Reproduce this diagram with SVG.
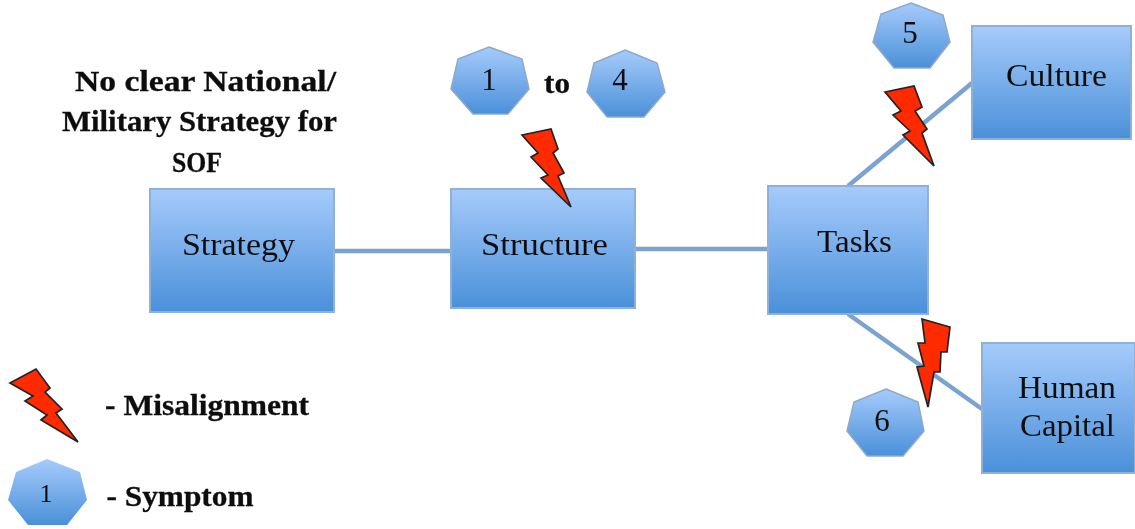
<svg xmlns="http://www.w3.org/2000/svg" width="1135" height="529" viewBox="0 0 1135 529">
<style>
text{font-family:"Liberation Serif","DejaVu Serif",serif;fill:#111;text-anchor:middle}
.n{font-size:31px}
.b{font-size:29px;font-weight:bold;stroke:#111;stroke-width:.3px}
.box{fill:url(#g);stroke:#8fb1d8;stroke-width:2}
.hep{fill:url(#g);stroke:#8fa9c8;stroke-width:1.5}
.bolt{fill:#ff2a00;stroke:#222;stroke-width:1.7;stroke-linejoin:miter}
.c{stroke:#7ba3cf;stroke-width:4.5;fill:none}
</style>
<defs>
<linearGradient id="g" x1="0" y1="0" x2="0" y2="1">
<stop offset="0" stop-color="#a6cbfb"/><stop offset="1" stop-color="#4a90d9"/>
</linearGradient>
<filter id="soft" x="-5%" y="-5%" width="110%" height="110%"><feGaussianBlur stdDeviation="0.45"/></filter>
</defs>
<g filter="url(#soft)">
<g id="connectors">
<line class="c" x1="334" y1="251" x2="451" y2="251"/>
<line class="c" x1="635" y1="249" x2="768" y2="249"/>
<line class="c" x1="848" y1="186" x2="972" y2="83"/>
<line class="c" x1="848" y1="314" x2="982" y2="409"/>
</g>
<g id="strategy"><rect class="box" x="150" y="189" width="184" height="123"/><text class="n" x="238.500" y="255" textLength="113" lengthAdjust="spacingAndGlyphs">Strategy</text></g>
<g id="structure"><rect class="box" x="451" y="189" width="184" height="119"/><text class="n" x="544.500" y="255" textLength="127" lengthAdjust="spacingAndGlyphs">Structure</text></g>
<g id="tasks"><rect class="box" x="768" y="186" width="160" height="128"/><text class="n" x="854.500" y="252" textLength="75" lengthAdjust="spacingAndGlyphs">Tasks</text></g>
<g id="culture"><rect class="box" x="972" y="26" width="159" height="113"/><text class="n" x="1056.500" y="86" textLength="101" lengthAdjust="spacingAndGlyphs">Culture</text></g>
<g id="human-capital"><rect class="box" x="982" y="343" width="153" height="130"/><text class="n" x="1067" y="398" textLength="98" lengthAdjust="spacingAndGlyphs">Human</text><text class="n" x="1067.500" y="436" textLength="95" lengthAdjust="spacingAndGlyphs">Capital</text></g>
<g id="strategy-note">
<text class="b" x="205.500" y="91" textLength="261" lengthAdjust="spacingAndGlyphs">No clear National/</text>
<text class="b" x="199.500" y="131" textLength="275" lengthAdjust="spacingAndGlyphs">Military Strategy for</text>
<text class="b" x="197" y="172" textLength="50" lengthAdjust="spacingAndGlyphs">SOF</text>
</g>
<g id="symptom-1"><polygon class="hep" points="489,47 522,59 529,89 508,114 473,114 451,89 458,59"/><text class="n" x="489" y="90">1</text></g>
<text class="b" x="557" y="93" textLength="26" lengthAdjust="spacingAndGlyphs">to</text>
<g id="symptom-4"><polygon class="hep" points="625,50 657,63 665,92 644,117 607,117 587,92 594,63"/><text class="n" x="620" y="90">4</text></g>
<g id="symptom-5"><polygon class="hep" points="911,3 943,15 950,42 930,68 894,68 873,42 881,14"/><text class="n" x="910" y="43">5</text></g>
<g id="symptom-6"><polygon class="hep" points="886,389 918,402 924,431 903,456 867,456 847,431 854,402"/><text class="n" x="882" y="431">6</text></g>
<g id="bolt-structure"><polygon class="bolt" points="522,135 551,129 558,149 553,153 564,173 558,176 571,207 541,178 548,175 531,157 538,153"/></g>
<g id="bolt-culture"><polygon class="bolt" points="885,92 914,86 922,107 915,111 927,129 922,133 934,166 903,135 910,131 893,115 901,111"/></g>
<g id="bolt-human"><polygon class="bolt" points="922,319 950,327 947,352 941,352 940,372 934,372 928,407 917,367 924,366 918,343 925,343"/></g>
<g id="legend-bolt"><polygon class="bolt" points="10,383 36,369 50,388 45,392 62,409 56,413 78,442 41,420 47,415 25,401 33,396"/></g>
<text class="b" x="207" y="415" textLength="204" lengthAdjust="spacingAndGlyphs">- Misalignment</text>
<g id="legend-symptom"><polygon class="hep" style="stroke:none" points="47,459 80,472 87,500 67,525 28,525 8,500 16,472"/><text class="n" x="46" y="502" style="font-size:26px">1</text></g>
<text class="b" x="180" y="506" textLength="147" lengthAdjust="spacingAndGlyphs">- Symptom</text>
</g>
</svg>
